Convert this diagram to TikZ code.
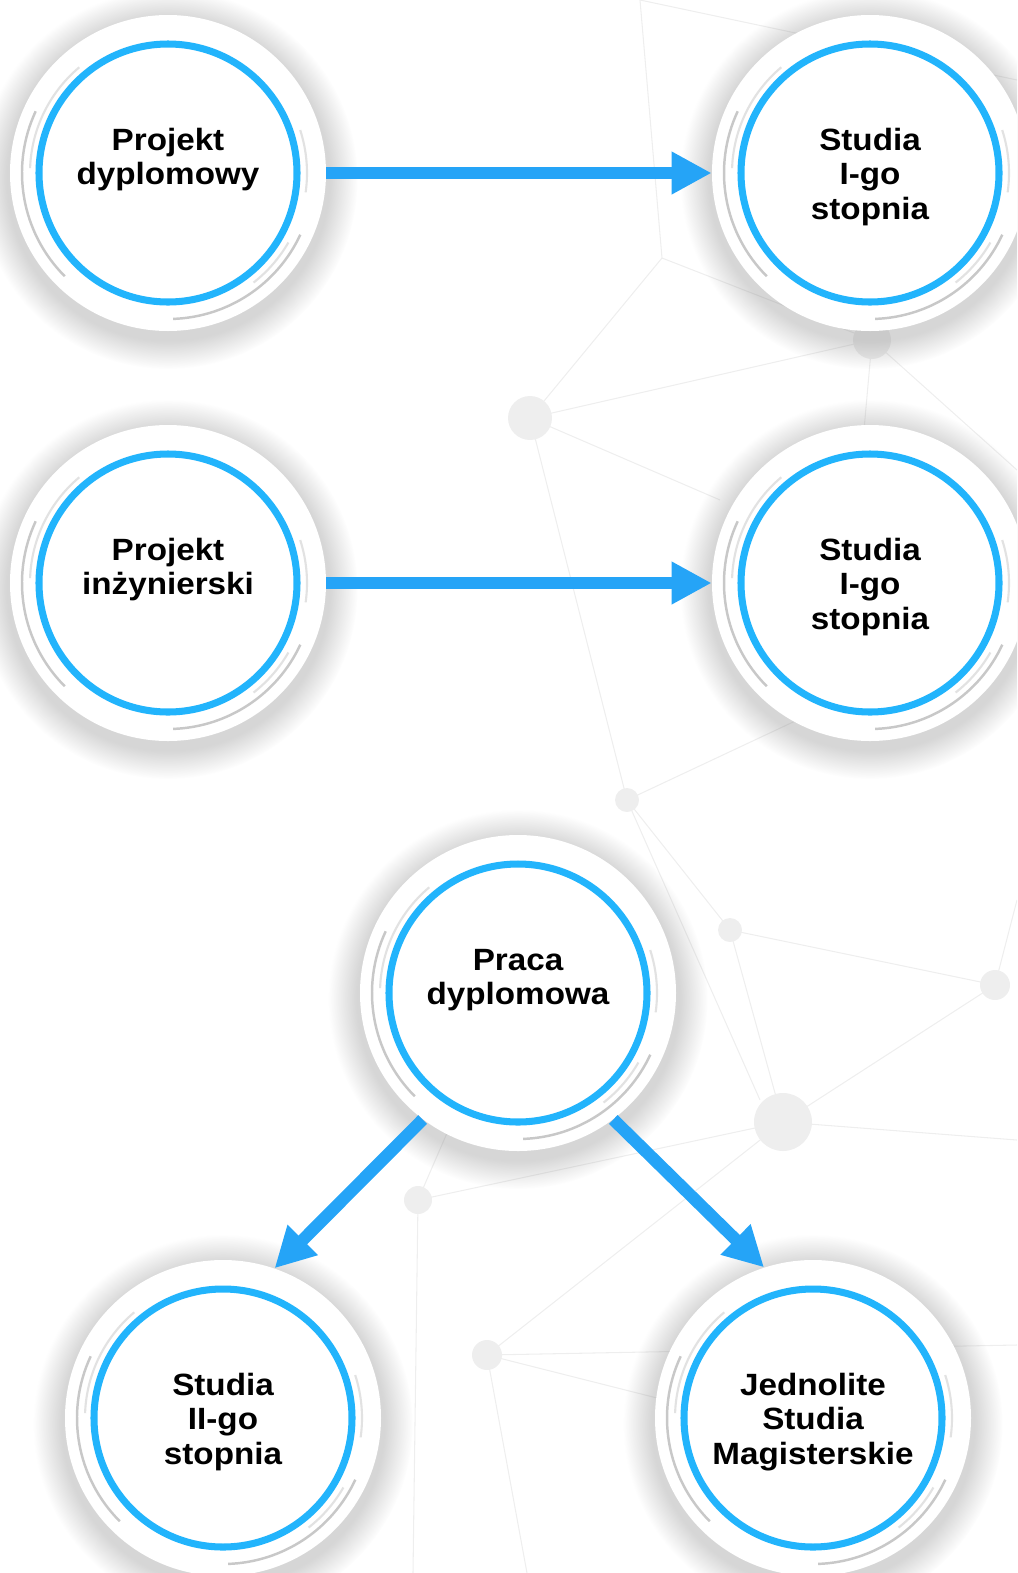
\documentclass[tikz,border=0pt]{standalone}
\usepackage{fontspec}
\setmainfont{Liberation Sans}[FakeStretch=1.08]
\usetikzlibrary{arrows.meta,shadows,fadings}
\definecolor{ringblue}{RGB}{34,180,252}
\definecolor{flowblue}{RGB}{37,164,247}
\definecolor{netgray}{RGB}{238,238,238}
\definecolor{arclight}{RGB}{226,226,226}
\definecolor{arcdark}{RGB}{200,200,200}
% lines of a stage, aligned at the first baseline
\newcommand{\stagelines}[1]{\begin{tabular}[t]{@{}c@{}}#1\end{tabular}}

\begin{document}
\begin{tikzpicture}[
  stage/.style={circle, fill=white, minimum size=6.32cm, inner sep=0pt,
    font=\fontsize{17.5}{19.8}\selectfont\bfseries, text height=0.5cm, text depth=1.42cm,
    circular drop shadow={shadow xshift=0pt, shadow yshift=-3pt, shadow scale=1.2, opacity=0.32}},
  ring/.style={draw=ringblue, line width=4pt},
  arclt/.style={draw=arclight, line width=1.2pt},
  arcdk/.style={draw=arcdark, line width=1.4pt},
  flow/.style={draw=flowblue, line width=7pt, -{Triangle[length=0.8cm, width=0.8cm]}},
  net/.style={draw=netgray, line width=0.6pt},
  netdot/.style={fill=netgray}]
  \useasboundingbox (0,0) rectangle (20.34,-31.46);
  \clip (0,0) rectangle (20.34,-31.46);

  % faint network in the background
  \coordinate (t0) at (12.8,0);
  \coordinate (t1) at (13.24,-5.16);
  \coordinate (na) at (10.6,-8.36);
  \coordinate (nb) at (17.44,-6.8);
  \coordinate (nc) at (12.54,-16);
  \coordinate (nd) at (14.6,-18.6);
  \coordinate (ne) at (19.9,-19.7);
  \coordinate (nf) at (15.66,-22.44);
  \coordinate (ng) at (8.36,-24);
  \coordinate (nh) at (9.74,-27.1);
  \draw[net] (t0) -- (t1) -- (na) -- (nb) -- (t1);
  \draw[net] (t0) -- (20.34,-1.6);
  \draw[net] (na) -- (nc) -- (16.8,-14) -- (nb) -- (20.34,-9.4);
  \draw[net] (na) -- (14.4,-10);
  \draw[net] (nc) -- (nd) -- (ne) -- (nf) -- (nd);
  \draw[net] (nc) -- (15.2,-22);
  \draw[net] (ne) -- (20.34,-18);
  \draw[net] (nf) -- (20.34,-22.8);
  \draw[net] (ng) -- (nf) -- (nh) -- (20.34,-26.9);
  \draw[net] (ng) -- (9.4,-21.6);
  \draw[net] (ng) -- (8.26,-31.46);
  \draw[net] (nh) -- (10.54,-31.46);
  \draw[net] (nh) -- (13.3,-28);
  \fill[netdot] (na) circle (0.44);
  \fill[netdot] (nb) circle (0.38);
  \fill[netdot] (nc) circle (0.24);
  \fill[netdot] (nd) circle (0.24);
  \fill[netdot] (ne) circle (0.3);
  \fill[netdot] (nf) circle (0.58);
  \fill[netdot] (ng) circle (0.28);
  \fill[netdot] (nh) circle (0.3);

  % stages
  \node[stage] (projdypl) at (3.36,-3.46) {\stagelines{Projekt\\dyplomowy}};
  \node[stage] (stud1a) at (17.40,-3.46) {\stagelines{Studia\\I-go\\stopnia}};
  \node[stage] (projinz) at (3.36,-11.66) {\stagelines{Projekt\\inżynierski}};
  \node[stage] (stud1b) at (17.40,-11.66) {\stagelines{Studia\\I-go\\stopnia}};
  \node[stage] (praca) at (10.36,-19.86) {\stagelines{Praca\\dyplomowa}};
  \node[stage] (stud2) at (4.46,-28.36) {\stagelines{Studia\\II-go\\stopnia}};
  \node[stage] (jsm) at (16.26,-28.36) {\stagelines{Jednolite\\Studia\\Magisterskie}};

  \foreach \n in {projdypl,stud1a,projinz,stud1b,praca,stud2,jsm} {
    \draw[ring] (\n.center) circle (2.58);
    \draw[arclt] ([shift={(130:2.76)}]\n.center) arc (130:178:2.76);
    \draw[arcdk] ([shift={(155:2.92)}]\n.center) arc (155:225:2.92);
    \draw[arclt] ([shift={(18:2.78)}]\n.center) arc (18:-8:2.78);
    \draw[arclt] ([shift={(-30:2.78)}]\n.center) arc (-30:-52:2.78);
    \draw[arcdk] ([shift={(-25:2.92)}]\n.center) arc (-25:-88:2.92);
  }

  % connectors
  \draw[flow] (projdypl) -- (stud1a);
  \draw[flow] (projinz) -- (stud1b);
  \draw[flow] (praca.233) -- (stud2.71);
  \draw[flow] (praca.307) -- (jsm.108);
\end{tikzpicture}
\end{document}
